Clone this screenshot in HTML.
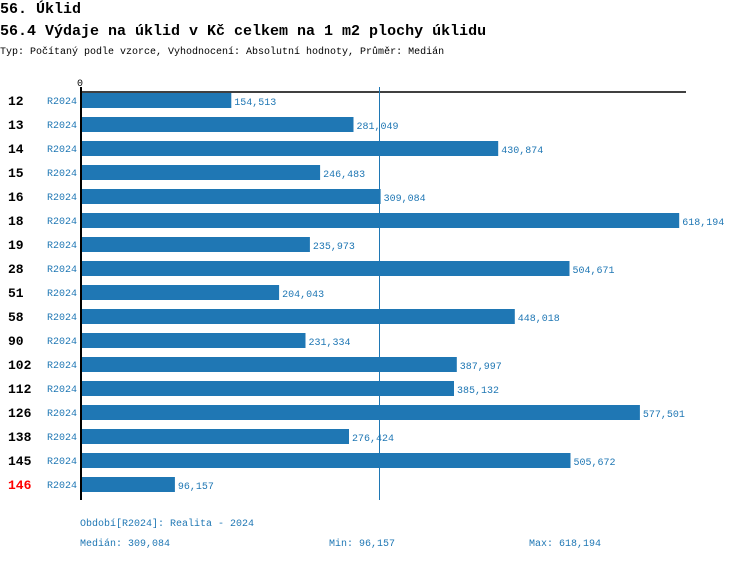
<!DOCTYPE html>
<html><head><meta charset="utf-8"><style>
body{margin:0;background:#fff;width:750px;height:560px;overflow:hidden}
svg text{font-family:"Liberation Mono","DejaVu Sans Mono",monospace}
</style></head><body>
<svg width="750" height="560" xmlns="http://www.w3.org/2000/svg">
<text x="0" y="13" font-size="15" font-weight="bold">56. Úklid</text>
<text x="0" y="35" font-size="15" font-weight="bold">56.4 Výdaje na úklid v Kč celkem na 1 m2 plochy úklidu</text>
<text x="0" y="54" font-size="10">Typ: Počítaný podle vzorce, Vyhodnocení: Absolutní hodnoty, Průměr: Medián</text>
<text x="77" y="86" font-size="10">0</text>
<line x1="80" y1="92" x2="686" y2="92" stroke="#000" stroke-width="1.5"/>
<line x1="379.5" y1="87" x2="379.5" y2="500" stroke="#1f77b4" stroke-width="1"/>
<g id="rows"></g>
<line x1="81" y1="87" x2="81" y2="500" stroke="#000" stroke-width="2"/>
<text x="80" y="526" font-size="10" fill="#1f77b4">Období[R2024]: Realita - 2024</text>
<text x="80" y="546" font-size="10" fill="#1f77b4">Medián: 309,084</text>
<text x="329" y="546" font-size="10" fill="#1f77b4">Min: 96,157</text>
<text x="529" y="546" font-size="10" fill="#1f77b4">Max: 618,194</text>
</svg>
<script>
var d=[["12",154513],["13",281049],["14",430874],["15",246483],["16",309084],["18",618194],["19",235973],["28",504671],["51",204043],["58",448018],["90",231334],["102",387997],["112",385132],["126",577501],["138",276424],["145",505672],["146",96157]];
var g=document.getElementById("rows"),s="",k=0.000966;
d.forEach(function(r,i){var y=93+24*i,w=r[1]*k;
s+='<text x="8" y="'+(y+12)+'" font-size="13" font-weight="bold" fill="'+(r[0]=="146"?"#f00":"#000")+'">'+r[0]+'</text>';
s+='<text x="47" y="'+(y+11)+'" font-size="10" fill="#1f77b4">R2024</text>';
s+='<rect x="82" y="'+y+'" width="'+w.toFixed(1)+'" height="15" fill="#1f77b4"/>';
s+='<text x="'+(85+w).toFixed(1)+'" y="'+(y+12)+'" font-size="10" fill="#1f77b4">'+r[1].toLocaleString("en-US")+'</text>';});
g.innerHTML=s;
</script>
</body></html>
